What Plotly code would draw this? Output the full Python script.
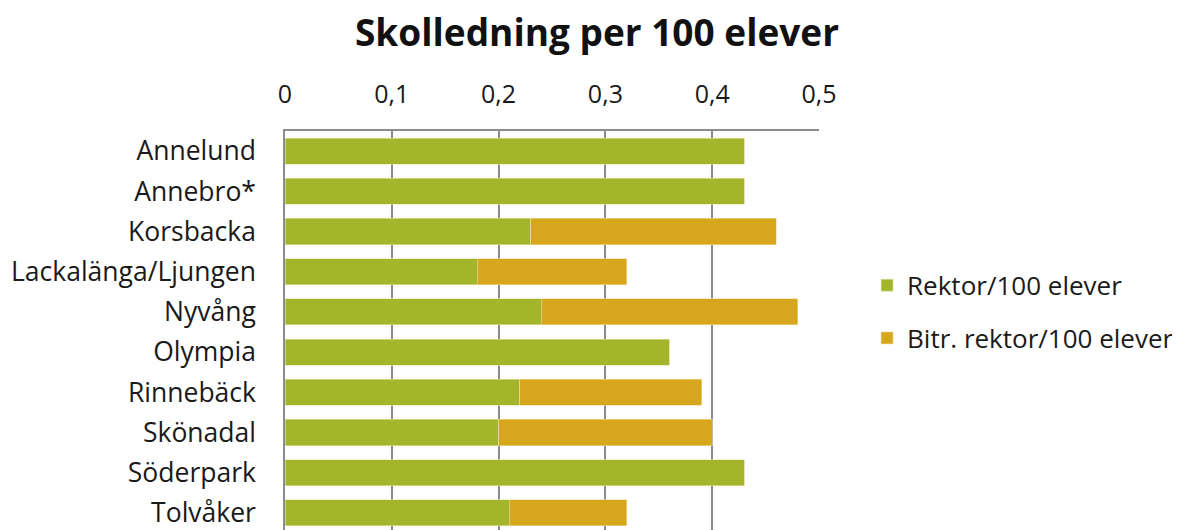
import plotly.graph_objects as go

schools = [
    "Annelund", "Annebro*", "Korsbacka", "Lackalänga/Ljungen", "Nyvång",
    "Olympia", "Rinnebäck", "Skönadal", "Söderpark", "Tolvåker",
]
rektor = [0.43, 0.43, 0.23, 0.18, 0.24, 0.36, 0.22, 0.20, 0.43, 0.21]
bitr_rektor = [0, 0, 0.23, 0.14, 0.24, 0, 0.17, 0.20, 0, 0.11]

x_ticks = [0, 0.1, 0.2, 0.3, 0.4, 0.5]

GREEN = "#A3B52A"
GOLD = "#D6A61D"
GRID = "#8c8c8c"
FONT = "Open Sans"

# the page body has an 8px default margin, so layout positions are offset by it
fig = go.Figure()
fig.add_trace(go.Bar(
    y=schools, x=rektor, orientation="h", name="Rektor/100 elever",
    marker=dict(color=GREEN, line=dict(width=0.6, color="#dfe6b0")),
    legendgroup="a", width=0.65,
))
fig.add_trace(go.Bar(
    y=schools, x=bitr_rektor, orientation="h", name="Bitr. rektor/100 elever",
    marker=dict(color=GOLD, line=dict(width=0.6, color="#f0dca0")),
    legendgroup="b", width=0.65,
))

fig.update_layout(
    barmode="stack",
    width=1180, height=530,
    margin=dict(l=277, r=369, t=123, b=8),
    paper_bgcolor="white", plot_bgcolor="white",
    separators=", ",
    font=dict(family=FONT, size=26, color="#1a1a1a"),
    title=dict(
        text="<b>Skolledning per 100 elever</b>",
        x=589 / 1180, xanchor="center", xref="container",
        y=1 - 25 / 530, yanchor="middle", yref="container",
        font=dict(family=FONT, size=37, color="#111111"),
    ),
    legend=dict(
        x=1.09, xanchor="left", y=0.547, yanchor="middle",
        traceorder="grouped", tracegroupgap=16,
        font=dict(family=FONT, size=26, color="#1a1a1a"),
        itemwidth=30,
    ),
)

fig.update_xaxes(
    side="top", range=[0, 0.5], tickvals=x_ticks,
    showgrid=True, gridcolor=GRID, gridwidth=1.5,
    showline=True, linecolor=GRID, linewidth=1.5, mirror=False,
    ticks="", ticklabelstandoff=16, zeroline=False, automargin=False,
    tickfont=dict(family=FONT, size=25, color="#1a1a1a"),
)
fig.update_yaxes(
    categoryorder="array", categoryarray=schools,
    range=[9.425, -0.5],
    showline=True, linecolor=GRID, linewidth=1.5,
    ticks="", ticklabelstandoff=22, showgrid=False, automargin=False,
    tickfont=dict(family=FONT, size=26.5, color="#1a1a1a"),
)

fig.write_html("out.html")
